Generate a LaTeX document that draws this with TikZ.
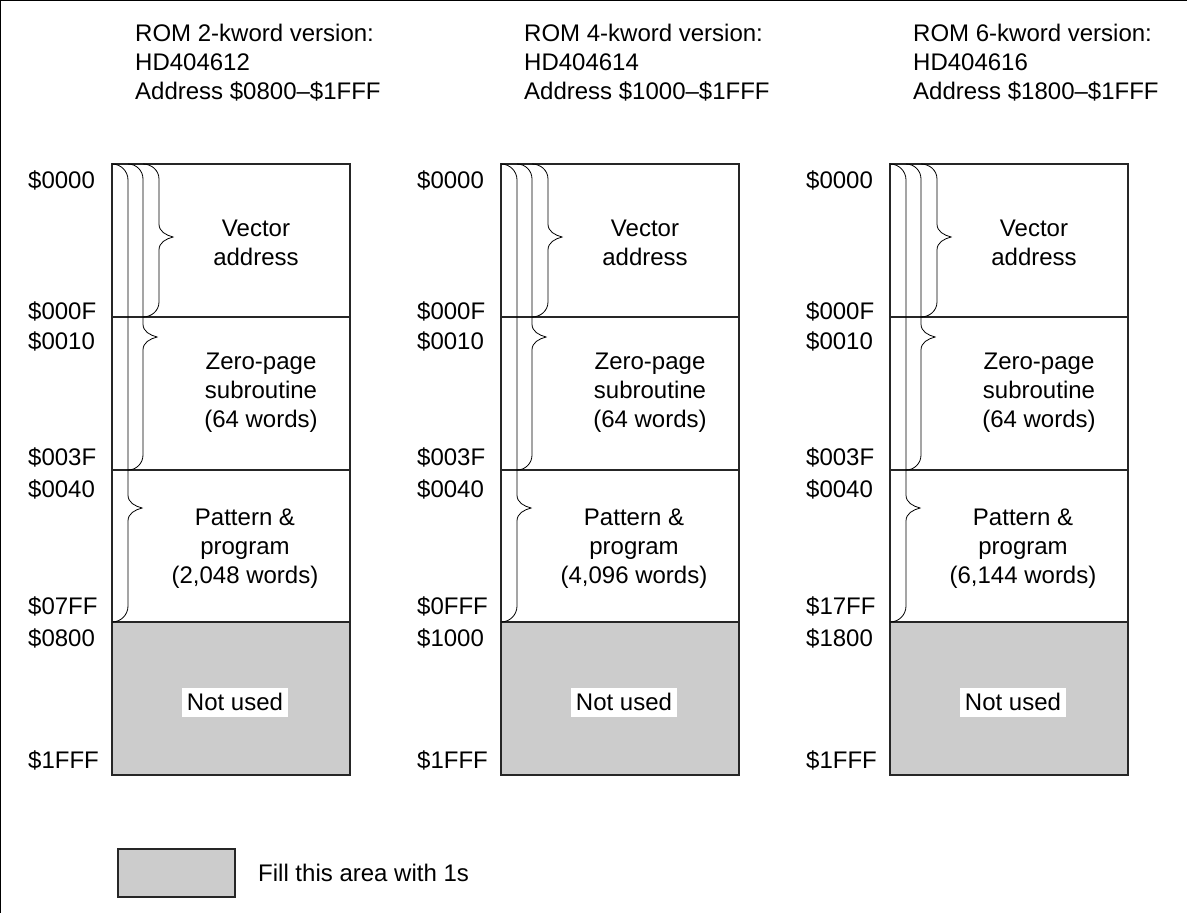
\documentclass[tikz,border=0pt]{standalone}
\usepackage{fontspec}
\setmainfont{Liberation Sans}
\begin{document}
\begin{tikzpicture}[x=1pt, y=-1pt,
                    font=\fontsize{24}{29}\selectfont,
                    memline/.style={line width=1.2pt, black!85},
                    curl/.style={line width=0.8pt, black},
                    unused/.style={fill=black!20},
                    title/.style={anchor=north west, inner sep=0pt, align=left},
                    addr/.style={anchor=base west, inner sep=0pt},
                    area/.style={align=center, inner sep=0pt},
                    blank/.style={fill=white, inner xsep=5pt, inner ysep=0pt, minimum height=29pt}
                ]
                \useasboundingbox (0,0) rectangle (1187,913);
                \draw[line width=1.2pt] (0.6,913) -- (0.6,0.6) -- (1187,0.6);

                % Column 1
                \node[title] (t1) at (135,24) {ROM 2-kword version:\\HD404612\\Address \$0800--\$1FFF};
                \draw[memline, unused] (112,622) rectangle (350,775);
                \draw[memline] (112,164) rectangle (350,622);
                \draw[memline] (112,317) -- (350,317);
                \draw[memline] (112,470) -- (350,470);

                % braces
                \draw[curl] (112,164) to[out=0,in=90] (128,180) -- (128,495) to[out=-90,in=165] (142,508)
                            to[out=195,in=90] (128,521) -- (128,606) to[out=-90,in=0] (112,622);
                \draw[curl] (128,164) to[out=0,in=90] (143,179) -- (143,324) to[out=-90,in=165] (157,337)
                            to[out=195,in=90] (143,350) -- (143,455) to[out=-90,in=0] (128,470);
                \draw[curl] (143,164) to[out=0,in=90] (159,179) -- (159,224) to[out=-90,in=165] (173,237)
                            to[out=195,in=90] (159,250) -- (159,302) to[out=-90,in=0] (143,317);

                \node[area] (vec1) at (256,243) {Vector\\address};
                \node[area] (zp1) at (261,393) {Zero-page\\subroutine\\(64 words)};
                \node[area] (pp1) at (245,549) {Pattern \&\\program\\(2,048 words)};
                \node[blank] (nu1) at (235,702) {Not used};

                \node[addr] (a10) at (28,188) {\$0000};
                \node[addr] (a11) at (28,319) {\$000F};
                \node[addr] (a12) at (28,349) {\$0010};
                \node[addr] (a13) at (28,465) {\$003F};
                \node[addr] (a14) at (28,497) {\$0040};
                \node[addr] (a15) at (28,614) {\$07FF};
                \node[addr] (a16) at (28,646) {\$0800};
                \node[addr] (a17) at (28,768) {\$1FFF};

                % Column 2
                \node[title] (t2) at (524,24) {ROM 4-kword version:\\HD404614\\Address \$1000--\$1FFF};
                \draw[memline, unused] (501,622) rectangle (739,775);
                \draw[memline] (501,164) rectangle (739,622);
                \draw[memline] (501,317) -- (739,317);
                \draw[memline] (501,470) -- (739,470);

                % braces
                \draw[curl] (501,164) to[out=0,in=90] (517,180) -- (517,495) to[out=-90,in=165] (531,508)
                            to[out=195,in=90] (517,521) -- (517,606) to[out=-90,in=0] (501,622);
                \draw[curl] (517,164) to[out=0,in=90] (532,179) -- (532,324) to[out=-90,in=165] (546,337)
                            to[out=195,in=90] (532,350) -- (532,455) to[out=-90,in=0] (517,470);
                \draw[curl] (532,164) to[out=0,in=90] (548,179) -- (548,224) to[out=-90,in=165] (562,237)
                            to[out=195,in=90] (548,250) -- (548,302) to[out=-90,in=0] (532,317);

                \node[area] (vec2) at (645,243) {Vector\\address};
                \node[area] (zp2) at (650,393) {Zero-page\\subroutine\\(64 words)};
                \node[area] (pp2) at (634,549) {Pattern \&\\program\\(4,096 words)};
                \node[blank] (nu2) at (624,702) {Not used};

                \node[addr] (a20) at (417,188) {\$0000};
                \node[addr] (a21) at (417,319) {\$000F};
                \node[addr] (a22) at (417,349) {\$0010};
                \node[addr] (a23) at (417,465) {\$003F};
                \node[addr] (a24) at (417,497) {\$0040};
                \node[addr] (a25) at (417,614) {\$0FFF};
                \node[addr] (a26) at (417,646) {\$1000};
                \node[addr] (a27) at (417,768) {\$1FFF};

                % Column 3
                \node[title] (t3) at (913,24) {ROM 6-kword version:\\HD404616\\Address \$1800--\$1FFF};
                \draw[memline, unused] (890,622) rectangle (1128,775);
                \draw[memline] (890,164) rectangle (1128,622);
                \draw[memline] (890,317) -- (1128,317);
                \draw[memline] (890,470) -- (1128,470);

                % braces
                \draw[curl] (890,164) to[out=0,in=90] (906,180) -- (906,495) to[out=-90,in=165] (920,508)
                            to[out=195,in=90] (906,521) -- (906,606) to[out=-90,in=0] (890,622);
                \draw[curl] (906,164) to[out=0,in=90] (921,179) -- (921,324) to[out=-90,in=165] (935,337)
                            to[out=195,in=90] (921,350) -- (921,455) to[out=-90,in=0] (906,470);
                \draw[curl] (921,164) to[out=0,in=90] (937,179) -- (937,224) to[out=-90,in=165] (951,237)
                            to[out=195,in=90] (937,250) -- (937,302) to[out=-90,in=0] (921,317);

                \node[area] (vec3) at (1034,243) {Vector\\address};
                \node[area] (zp3) at (1039,393) {Zero-page\\subroutine\\(64 words)};
                \node[area] (pp3) at (1023,549) {Pattern \&\\program\\(6,144 words)};
                \node[blank] (nu3) at (1013,702) {Not used};

                \node[addr] (a30) at (806,188) {\$0000};
                \node[addr] (a31) at (806,319) {\$000F};
                \node[addr] (a32) at (806,349) {\$0010};
                \node[addr] (a33) at (806,465) {\$003F};
                \node[addr] (a34) at (806,497) {\$0040};
                \node[addr] (a35) at (806,614) {\$17FF};
                \node[addr] (a36) at (806,646) {\$1800};
                \node[addr] (a37) at (806,768) {\$1FFF};

                % legend
                \draw[memline, unused] (118,849) rectangle (235,897);
                \node[anchor=west, inner sep=0pt] (leg) at (258,873) {Fill this area with 1s};

            \end{tikzpicture}
\end{document}
